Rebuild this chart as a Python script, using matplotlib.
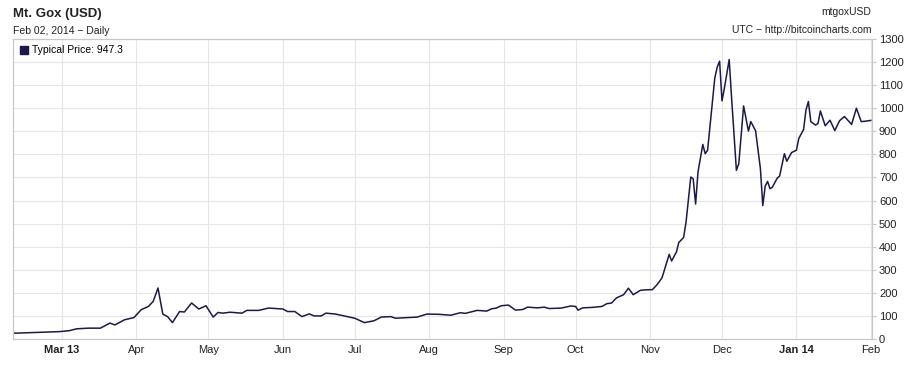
import matplotlib.pyplot as plt
import matplotlib.dates as mdates
from matplotlib.lines import Line2D
import numpy as np
import pandas as pd

# typical daily price
dates = ["2013-02-09", "2013-02-28", "2013-03-04", "2013-03-07", "2013-03-12", "2013-03-17",
         "2013-03-21", "2013-03-23", "2013-03-27", "2013-03-31", "2013-04-03", "2013-04-06",
         "2013-04-08", "2013-04-10", "2013-04-12", "2013-04-14", "2013-04-16", "2013-04-19",
         "2013-04-21", "2013-04-24", "2013-04-27", "2013-04-30", "2013-05-03", "2013-05-05",
         "2013-05-07", "2013-05-10", "2013-05-15", "2013-05-17", "2013-05-22", "2013-05-26",
         "2013-06-01", "2013-06-03", "2013-06-06", "2013-06-09", "2013-06-12", "2013-06-14",
         "2013-06-17", "2013-06-19", "2013-06-23", "2013-06-28", "2013-07-01", "2013-07-05",
         "2013-07-09", "2013-07-12", "2013-07-16", "2013-07-18", "2013-07-23", "2013-07-27",
         "2013-07-31", "2013-08-05", "2013-08-10", "2013-08-14", "2013-08-16", "2013-08-21",
         "2013-08-25", "2013-08-27", "2013-08-29", "2013-08-31", "2013-09-03", "2013-09-06",
         "2013-09-09", "2013-09-11", "2013-09-15", "2013-09-18", "2013-09-20", "2013-09-25",
         "2013-09-29", "2013-10-01", "2013-10-02", "2013-10-04", "2013-10-08", "2013-10-12",
         "2013-10-14", "2013-10-16", "2013-10-18", "2013-10-21", "2013-10-23", "2013-10-25",
         "2013-10-28", "2013-10-30", "2013-11-02", "2013-11-04", "2013-11-06", "2013-11-09",
         "2013-11-10", "2013-11-12", "2013-11-13", "2013-11-15", "2013-11-16", "2013-11-18",
         "2013-11-19", "2013-11-20", "2013-11-21", "2013-11-23", "2013-11-24", "2013-11-25",
         "2013-11-27", "2013-11-28", "2013-11-29", "2013-11-30", "2013-12-01", "2013-12-02",
         "2013-12-04", "2013-12-05", "2013-12-07", "2013-12-08", "2013-12-10", "2013-12-12",
         "2013-12-13", "2013-12-15", "2013-12-17", "2013-12-18", "2013-12-19", "2013-12-20",
         "2013-12-21", "2013-12-22", "2013-12-24", "2013-12-25", "2013-12-27", "2013-12-28",
         "2013-12-30", "2014-01-01", "2014-01-02", "2014-01-04", "2014-01-05", "2014-01-06",
         "2014-01-07", "2014-01-09", "2014-01-10", "2014-01-11", "2014-01-13", "2014-01-15",
         "2014-01-17", "2014-01-19", "2014-01-21", "2014-01-22", "2014-01-24", "2014-01-26",
         "2014-01-28", "2014-01-30", "2014-02-01"]
price = [25, 32, 36, 44, 47, 47,
         69, 61, 83, 93, 127, 141,
         163, 221, 108, 97, 71, 119,
         117, 156, 130, 144, 95, 115,
         112, 116, 112, 124, 124, 134,
         130, 119, 119, 97, 109, 100,
         100, 112, 108, 97, 90, 71,
         79, 95, 97, 90, 93, 95,
         108, 107, 103, 114, 111, 124,
         121, 131, 134, 144, 147, 125,
         128, 138, 135, 138, 132, 134,
         143, 141, 125, 135, 137, 141,
         153, 156, 178, 192, 220, 192,
         211, 213, 214, 236, 265, 367,
         338, 377, 418, 440, 505, 702,
         694, 585, 724, 843, 803, 818,
         1029, 1131, 1178, 1204, 1032, 1087,
         1211, 1044, 731, 760, 1010, 901,
         942, 902, 738, 578, 662, 683,
         651, 658, 697, 706, 803, 770,
         808, 818, 869, 908, 993, 1029,
         942, 927, 934, 988, 924, 948,
         903, 946, 964, 953, 930, 1000,
         942, 944, 947.3]

month_ticks = ["2013-03-01", "2013-04-01", "2013-05-01", "2013-06-01", "2013-07-01",
               "2013-08-01", "2013-09-01", "2013-10-01", "2013-11-01", "2013-12-01",
               "2014-01-01", "2014-02-01"]
month_labels = ["Mar 13", "Apr", "May", "Jun", "Jul", "Aug", "Sep", "Oct", "Nov", "Dec",
                "Jan 14", "Feb"]
y_ticks = list(range(0, 1400, 100))

plt.rcParams['font.family'] = ['Liberation Sans', 'DejaVu Sans']
line_col = '#1b1a4a'
grid_col = '#e6e6e6'
spine_col = '#c8c8c8'

d = pd.to_datetime(dates)
fig = plt.figure(figsize=(9.15, 3.65), dpi=100)
ax = fig.add_axes([13/915, 26/365, 859/915, 300/365])

ax.plot(d, price, color=line_col, lw=1.1)

ax.set_xlim(pd.Timestamp("2013-02-08 14:00"), pd.Timestamp("2014-02-01 12:00"))
ax.set_ylim(0, 1300)
ax.set_xticks(pd.to_datetime(month_ticks))
ax.set_xticklabels(month_labels)
for lab in ax.get_xticklabels():
    if lab.get_text() in ("Mar 13", "Jan 14"):
        lab.set_fontweight('bold')
ax.set_yticks(y_ticks)
ax.yaxis.tick_right()
ax.tick_params(axis='x', length=0, pad=4, labelsize=8, colors='#222222')
ax.tick_params(axis='y', length=3, width=0.8, color=spine_col, pad=2, labelsize=8,
               labelcolor='#222222')
ax.grid(True, color=grid_col, lw=0.8)
ax.set_axisbelow(True)
for s in ax.spines.values():
    s.set_color(spine_col)
    s.set_linewidth(0.9)

handle = Line2D([], [], marker='s', ls='none', color=line_col, markersize=5.5)
ax.legend([handle], ["Typical Price: %.1f" % price[-1]], loc='upper left',
          bbox_to_anchor=(0, 1), borderaxespad=0.2, handletextpad=0.2,
          handlelength=1.0, frameon=False, fontsize=7.5)

fig.text(13/915, 1 - 14/365, "Mt. Gox (USD)", fontsize=9.5, fontweight='bold',
         va='center', ha='left', color='#222222')
fig.text(13/915, 1 - 31/365, "Feb 02, 2014 \u2212 Daily", fontsize=7.5,
         va='center', ha='left', color='#222222')
fig.text(871/915, 1 - 12/365, "mtgoxUSD", fontsize=7.5, va='center', ha='right',
         color='#222222')
fig.text(871/915, 1 - 30/365, "UTC \u2212 http://bitcoincharts.com", fontsize=7.5,
         va='center', ha='right', color='#222222')

fig.savefig("out.png", dpi=100)
